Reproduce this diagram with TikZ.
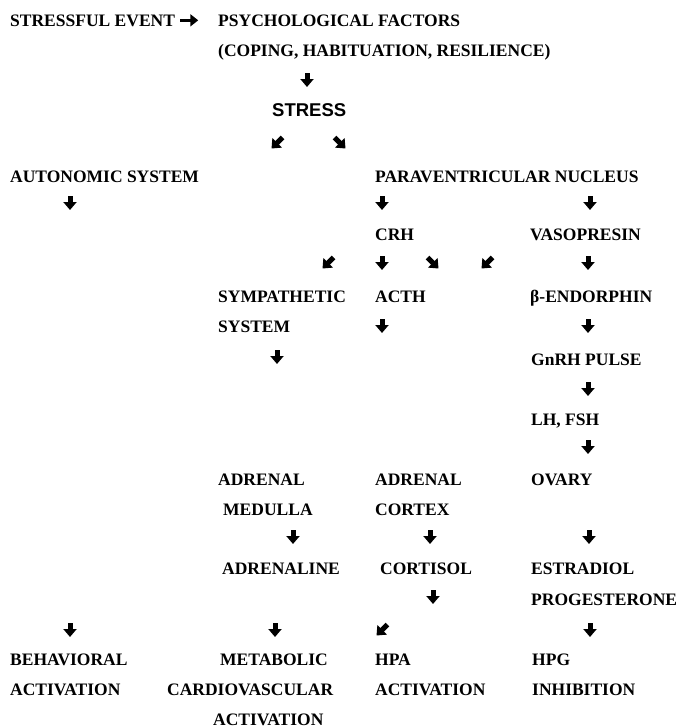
\documentclass[tikz,border=0pt]{standalone}
\usepackage{fontspec}
\setmainfont{Liberation Serif}
\newfontfamily\arialfont{Liberation Sans}
\usetikzlibrary{arrows.meta}

\tikzset{
  lbl/.style={anchor=base west, inner sep=0pt, font=\bfseries\fontsize{17.5}{20}\selectfont},
  head/.style={anchor=base west, inner sep=0pt, font=\arialfont\bfseries\fontsize{18.5}{20}\selectfont},
  dn/.style={line width=5pt, -{Triangle[width=13pt,length=8pt]}},
  rt/.style={line width=3.5pt, -{Triangle[width=12pt,length=8pt]}}
}

\begin{document}
\begin{tikzpicture}[x=1pt,y=-1pt]
  \useasboundingbox (0,0) rectangle (678,728);
  % top
  \node[lbl](stressevt) at (10,26){STRESSFUL EVENT};
  \node[lbl](psych) at (218,26){PSYCHOLOGICAL FACTORS};
  \node[lbl](coping) at (218,56){(COPING, HABITUATION, RESILIENCE)};
  \node[head](stress) at (272,116.6){STRESS};
  \node[lbl](auto) at (10,182){AUTONOMIC SYSTEM};
  \node[lbl](pvn) at (375,182){PARAVENTRICULAR NUCLEUS};
  \node[lbl](crh) at (375,240){CRH};
  \node[lbl](vaso) at (530,240){VASOPRESIN};
  \node[lbl](symp) at (218,302){SYMPATHETIC};
  \node[lbl](symp2) at (218,332){SYSTEM};
  \node[lbl](acth) at (375,302){ACTH};
  \node[lbl](endo) at (530,302){β-ENDORPHIN};
  \node[lbl](gnrh) at (531,365){GnRH PULSE};
  \node[lbl](lhfsh) at (531,425){LH, FSH};
  % adrenal, ovary
  \node[lbl](adrmed) at (218,485){ADRENAL};
  \node[lbl](medulla) at (223,515){MEDULLA};
  \node[lbl](adrcor) at (375,485){ADRENAL};
  \node[lbl](cortex) at (375,515){CORTEX};
  \node[lbl](ovary) at (531,485){OVARY};
  \node[lbl](adrenaline) at (222,574){ADRENALINE};
  \node[lbl](cortisol) at (380,574){CORTISOL};
  \node[lbl](estradiol) at (531,574){ESTRADIOL};
  \node[lbl](progest) at (531,605){PROGESTERONE};
  % outcomes
  \node[lbl](behav) at (10,665){BEHAVIORAL};
  \node[lbl](behav2) at (10,695){ACTIVATION};
  \node[lbl](metab) at (220,665){METABOLIC};
  \node[lbl](cardio) at (167,695){CARDIOVASCULAR};
  \node[lbl](cardio2) at (213,725.5){ACTIVATION};
  \node[lbl](hpa) at (375,665){HPA};
  \node[lbl](hpa2) at (375,695){ACTIVATION};
  \node[lbl](hpg) at (532,665){HPG};
  \node[lbl](hpg2) at (532,695){INHIBITION};
  % arrows
  \draw[rt] ([xshift=5pt]stressevt.east) -- ++(18,0);
  \foreach \x/\y in {307/80,70/203,382/203,590/203,382/263,588/263,382/326,588/326,277/357,588/389,588/447,293/537,430/537,589/537,433/597,70/630,275/630,590/630}
    \draw[dn] (\x,\y-7) -- (\x,\y+7);
  \foreach \x/\y in {277/143,328/263,487/263,382/630}
    \draw[dn] (\x+5.5,\y-5.5) -- (\x-5.5,\y+5.5);
  \foreach \x/\y in {340/143,433/263}
    \draw[dn] (\x-5.5,\y-5.5) -- (\x+5.5,\y+5.5);
\end{tikzpicture}
\end{document}
